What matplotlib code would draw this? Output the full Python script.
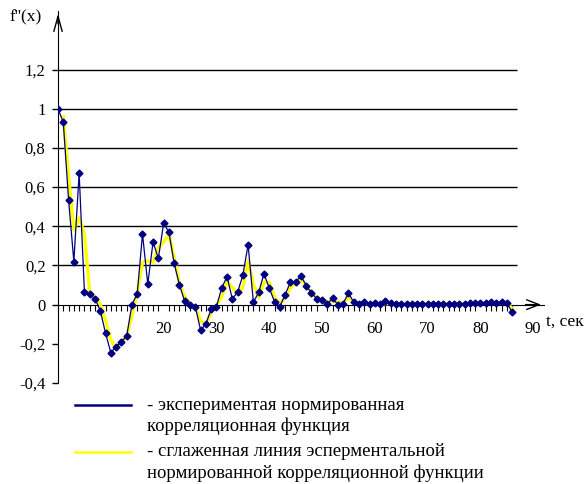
import matplotlib
matplotlib.use("Agg")
import matplotlib.pyplot as plt
from matplotlib.lines import Line2D
from matplotlib.ticker import FixedLocator

plt.rcParams['font.family'] = ['Liberation Serif', 'DejaVu Serif']

# experimental normalized correlation function, t = 0..86 s
t_exp = list(range(0, 87))
f_exp = [1.0, 0.93, 0.535, 0.22, 0.67, 0.066, 0.053, 0.03, -0.03, -0.146,
         -0.245, -0.214, -0.189, -0.162, 0.0, 0.055, 0.36, 0.105, 0.32, 0.236,
         0.415, 0.37, 0.21, 0.10, 0.017, -0.004, -0.01, -0.13, -0.10, -0.022,
         -0.01, 0.085, 0.143, 0.03, 0.063, 0.15, 0.306, 0.012, 0.063, 0.157,
         0.085, 0.015, -0.01, 0.05, 0.114, 0.114, 0.148, 0.097, 0.06, 0.03,
         0.024, 0.003, 0.032, 0.0, 0.005, 0.06, 0.012, 0.005, 0.015, 0.005,
         0.01, 0.005, 0.017, 0.01, 0.005, 0.005, 0.005, 0.005, 0.005, 0.005,
         0.005, 0.005, 0.005, 0.005, 0.005, 0.005, 0.005, 0.005, 0.008, 0.01,
         0.01, 0.01, 0.012, 0.01, 0.012, 0.01, -0.04]

# smoothed line, t = 1..86 s
t_smooth = list(range(1, 87))
f_smooth = [0.96, 0.66, 0.38, 0.445, 0.36, 0.063, 0.037, 0.003, -0.08,
            -0.18, -0.226, -0.19, -0.16, -0.056, 0.063, 0.216, 0.224, 0.216, 0.29,
            0.32, 0.36, 0.24, 0.11, 0.04, 0.005, -0.012, -0.085, -0.1, -0.04,
            -0.005, 0.04, 0.117, 0.09, 0.05, 0.09, 0.225, 0.105, 0.037, 0.114,
            0.114, 0.037, 0.0, 0.037, 0.085, 0.11, 0.13, 0.097, 0.06, 0.037,
            0.022, 0.012, 0.02, 0.012, 0.007, 0.037, 0.012, 0.005, 0.005, 0.005,
            0.005, 0.005, 0.005, 0.005, 0.005, 0.005, 0.005, 0.005, 0.005, 0.005,
            0.005, 0.005, 0.005, 0.005, 0.005, 0.005, 0.005, 0.005, 0.008, 0.008,
            0.01, 0.01, 0.01, 0.01, 0.01, 0.008, -0.02]

y_ticks = [-0.4, -0.2, 0, 0.2, 0.4, 0.6, 0.8, 1, 1.2]
y_ticklabels = ["-0,4", "-0,2", "0", "0,2", "0,4", "0,6", "0,8", "1", "1,2"]
grid_vals = [0.2, 0.4, 0.6, 0.8, 1.0, 1.2]
x_ticks = [20, 30, 40, 50, 60, 70, 80, 90]

legend_colors = ["#000080", "#FFFF00"]
legend_texts = [
    ["- экспериментая нормированная", "корреляционная функция"],
    ["- сглаженная линия эсперментальной", "нормированной корреляционной функции"],
]

fig = plt.figure(figsize=(5.86, 4.84), dpi=100)
ax = fig.add_axes([0.099, 0.2087, 0.829, 0.769])
ax.set_xlim(0, 92)
ax.set_ylim(-0.4, 1.5)

for s in ['top', 'right']:
    ax.spines[s].set_visible(False)
ax.spines['left'].set_position(('data', 0))
ax.spines['bottom'].set_position(('data', 0))

ax.hlines(grid_vals, 0, 87, color='black', lw=1)

ax.plot(t_smooth, f_smooth, color='#FFFF00', lw=2.4, zorder=3)
ax.plot(t_exp, f_exp, color='#000080', lw=0.9, marker='D', ms=3.5,
        mec='#000080', mfc='#000080', zorder=4)

ax.set_yticks(y_ticks)
ax.set_yticklabels(y_ticklabels, fontsize=12)
ax.tick_params(axis='y', length=4, width=1, pad=5)

ax.xaxis.set_major_locator(FixedLocator(x_ticks))
ax.set_xticklabels([str(v) for v in x_ticks], fontsize=12)
ax.xaxis.set_minor_locator(FixedLocator(t_exp))
ax.tick_params(axis='x', which='major', length=0, pad=12)
ax.tick_params(axis='x', which='minor', length=4, width=0.8, direction='out')

# axis arrows
ax.annotate('', xy=(92, 0), xytext=(88, 0),
            arrowprops=dict(arrowstyle='->,head_length=0.9,head_width=0.35', lw=1, color='black'))
ax.annotate('', xy=(0, 1.5), xytext=(0, 1.42),
            arrowprops=dict(arrowstyle='->,head_length=1.1,head_width=0.3', lw=1, color='black'))

fig.text(10 / 586, 1 - 17 / 484, "f''(x)", fontsize=12.5, va='center', ha='left')
fig.text(546 / 586, 1 - 322 / 484, "t, сек", fontsize=12.5, va='center', ha='left')

# legend
for k, col in enumerate(legend_colors):
    y = 1 - (405 + 47 * k) / 484
    fig.add_artist(Line2D([75 / 586, 131 / 586], [y, y], color=col, lw=1.8))
    for j, line in enumerate(legend_texts[k]):
        fig.text(147 / 586, 1 - (405 + 47 * k + 21 * j) / 484, line, fontsize=13.5,
                 va='center', ha='left')

fig.savefig("out.png", dpi=100)
